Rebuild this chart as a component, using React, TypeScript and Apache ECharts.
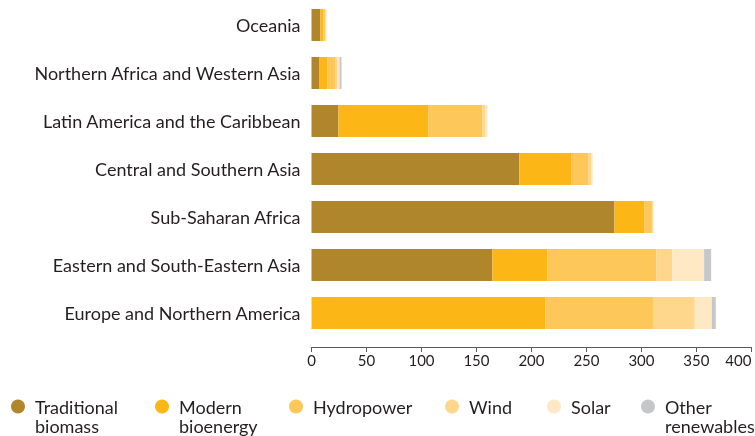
import React, { useEffect, useRef } from "react";
import * as echarts from "echarts";

const categories = [
  "Oceania",
  "Northern Africa and Western Asia",
  "Latin America and the Caribbean",
  "Central and Southern Asia",
  "Sub-Saharan Africa",
  "Eastern and South-Eastern Asia",
  "Europe and Northern America",
];
const traditionalBiomass = [8, 7.3, 24.5, 189, 275.5, 164.5, 0];
const modernBioenergy = [2.7, 7.3, 82, 47, 27, 50, 212.5];
const hydropower = [1.5, 7.3, 49, 15.5, 7.3, 99, 98];
const wind = [0.8, 1.8, 2.7, 2.7, 1, 14.5, 38];
const solar = [0.8, 1.8, 1.8, 1.5, 0, 29, 15.5];
const otherRenewables = [0, 1.8, 0, 0, 0, 6.4, 3.6];
const xTicks = { min: 0, max: 400, interval: 50 };

const seriesDefs = [
  { name: "Traditional\nbiomass", data: traditionalBiomass, color: "#B0862D", left: 11 },
  { name: "Modern\nbioenergy", data: modernBioenergy, color: "#FCB716", left: 155 },
  { name: "Hydropower", data: hydropower, color: "#FEC75A", left: 289 },
  { name: "Wind", data: wind, color: "#FED78D", left: 445 },
  { name: "Solar", data: solar, color: "#FFE9C4", left: 547 },
  { name: "Other\nrenewables", data: otherRenewables, color: "#C6C7C9", left: 641 },
];

const FONT = "Lato";
const TEXT = "#231F20";
const ICON_CY = 406;
const LINE_H = 17;
const SECOND_CY = 425.5;

export default function App() {
  const ref = useRef<HTMLDivElement>(null);
  useEffect(() => {
    if (!ref.current) return;
    const chart = echarts.init(ref.current, undefined, { renderer: "svg" });
    const secondLines = seriesDefs
      .filter((s) => s.name.includes("\n"))
      .map((s) => ({
        type: "text",
        left: s.left + 24,
        top: SECOND_CY - LINE_H / 2,
        style: {
          text: s.name.split("\n")[1],
          fill: TEXT,
          font: `18px ${FONT}`,
          lineHeight: LINE_H,
        },
      }));
    chart.setOption({
      animation: false,
      grid: { left: 311.5, right: 3.6, top: 1, bottom: 99, containLabel: false },
      xAxis: {
        type: "value",
        min: xTicks.min,
        max: xTicks.max,
        interval: xTicks.interval,
        offset: 10,
        axisLine: { show: true, lineStyle: { color: "#5a5a5a", width: 1 } },
        axisTick: { show: true, length: 5, lineStyle: { color: "#5a5a5a" } },
        splitLine: { show: false },
        axisLabel: { color: TEXT, fontSize: 15, fontFamily: FONT, margin: 5, alignMaxLabel: "right" },
      },
      yAxis: {
        type: "category",
        data: categories,
        inverse: true,
        axisLine: { show: false },
        axisTick: { show: false },
        axisLabel: { color: TEXT, fontSize: 18, fontFamily: FONT, margin: 11 },
      },
      legend: seriesDefs.map((s) => ({
        data: [s.name],
        left: s.left,
        top: ICON_CY - LINE_H / 2,
        padding: 0,
        icon: "circle",
        itemWidth: 14,
        itemHeight: 14,
        selectedMode: false,
        formatter: (n: string) => n.split("\n")[0],
        textStyle: {
          color: TEXT,
          fontSize: 18,
          fontFamily: FONT,
          lineHeight: LINE_H,
          padding: [0, 0, 0, 5],
        },
      })),
      graphic: secondLines,
      series: seriesDefs.map((s) => ({
        name: s.name,
        type: "bar",
        stack: "total",
        barWidth: 32,
        data: s.data,
        itemStyle: { color: s.color },
        emphasis: { disabled: true },
      })),
    });
    return () => chart.dispose();
  }, []);
  return (
    <div
      ref={ref}
      style={{ position: "fixed", left: 0, top: 0, width: 755, height: 436 }}
    />
  );
}
